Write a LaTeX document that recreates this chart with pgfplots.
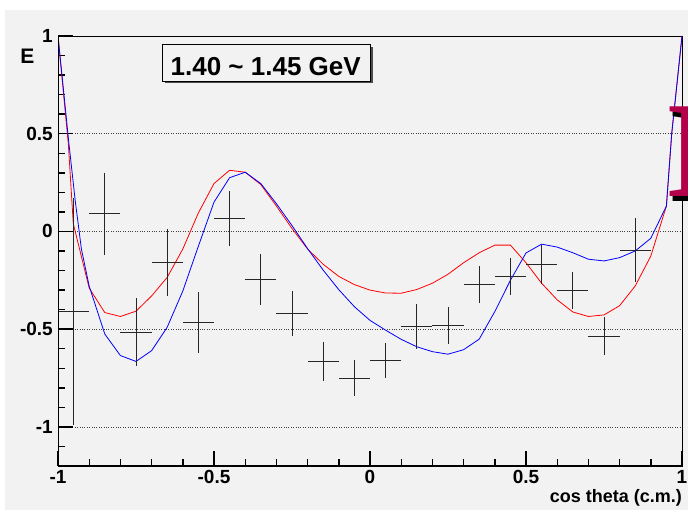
\documentclass[border=0pt]{standalone}
\usepackage{fontspec}
\setmainfont{Liberation Sans}
\newfontfamily\bigserif{Liberation Serif}
\usepackage{pgfplots}
\pgfplotsset{compat=1.18}
\definecolor{canvas}{RGB}{242,242,242}
\definecolor{crimson}{RGB}{180,0,75}

% measured data: cos theta bins, E, half bin width, error
\pgfplotstableread{
x y ex ey
-0.95 -0.41 0.05 0.58
-0.85 0.09 0.05 0.21
-0.75 -0.515 0.05 0.175
-0.65 -0.16 0.05 0.17
-0.55 -0.465 0.05 0.155
-0.45 0.065 0.05 0.14
-0.35 -0.245 0.05 0.13
-0.25 -0.42 0.05 0.115
-0.15 -0.665 0.05 0.10
-0.05 -0.75 0.05 0.09
0.05 -0.66 0.05 0.09
0.15 -0.485 0.05 0.115
0.25 -0.48 0.05 0.095
0.35 -0.27 0.05 0.095
0.45 -0.23 0.05 0.095
0.55 -0.17 0.05 0.10
0.65 -0.30 0.05 0.095
0.75 -0.535 0.05 0.095
0.85 -0.095 0.05 0.165
}\datatab

\begin{document}
\begin{tikzpicture}
\fill[white] (0,0) rectangle (688pt,510pt);
\fill[canvas] (5pt,0) rectangle (688pt,500pt);
\begin{axis}[
  at={(58pt,44pt)}, anchor=south west,
  scale only axis, width=624pt, height=430pt,
  xmin=-1, xmax=1, ymin=-1.2, ymax=1,
  xtick={-1,-0.5,0,0.5,1}, xticklabels={-1,-0.5,0,0.5,1},
  ytick={-1,-0.5,0,0.5,1}, yticklabels={-1,-0.5,0,0.5,1},
  minor xtick={-1,-0.9,...,1},
  minor ytick={-1.1,-1.0,...,1},
  tick align=inside, tick pos=left,
  major tick length=14.5pt, minor tick length=7pt,
  tick style={black, line width=1.4pt},
  axis line style={line width=0.9pt},
  ticklabel style={font=\fontsize{19}{19}\selectfont\bfseries, inner sep=0pt},
  xticklabel style={yshift=-4.5pt},
  yticklabel style={xshift=-5pt},
  ymajorgrids,
  major grid style={black!75, line width=0.7pt, dash pattern=on 0.8pt off 1.6pt},
]
\addplot[red, line width=0.8pt] coordinates {
(-1,1) (-0.967,0.45) (-0.951,0.04) (-0.9,-0.29) (-0.85,-0.415) (-0.8,-0.435)
(-0.75,-0.408) (-0.7,-0.33) (-0.65,-0.235) (-0.6,-0.09) (-0.55,0.095) (-0.5,0.245)
(-0.45,0.313) (-0.4,0.303) (-0.35,0.24) (-0.3,0.13) (-0.25,0.015) (-0.2,-0.09)
(-0.15,-0.168) (-0.1,-0.23) (-0.05,-0.272) (0,-0.30) (0.05,-0.315) (0.1,-0.316)
(0.15,-0.297) (0.2,-0.265) (0.25,-0.219) (0.3,-0.16) (0.35,-0.109) (0.4,-0.07)
(0.45,-0.07) (0.5,-0.16) (0.55,-0.265) (0.6,-0.35) (0.65,-0.412) (0.7,-0.435)
(0.75,-0.427) (0.8,-0.38) (0.85,-0.279) (0.9,-0.126) (0.95,0.13) (0.967,0.5) (1,1)
};
\addplot[blue, line width=0.8pt] coordinates {
(-1,1) (-0.965,0.45) (-0.945,0.16) (-0.925,-0.09) (-0.9,-0.28) (-0.85,-0.525)
(-0.8,-0.635) (-0.75,-0.665) (-0.7,-0.61) (-0.65,-0.49) (-0.6,-0.305) (-0.55,-0.075)
(-0.5,0.15) (-0.45,0.275) (-0.4,0.303) (-0.35,0.245) (-0.3,0.142) (-0.25,0.03)
(-0.2,-0.088) (-0.15,-0.198) (-0.1,-0.298) (-0.05,-0.385) (0,-0.455) (0.05,-0.505)
(0.1,-0.552) (0.15,-0.59) (0.2,-0.615) (0.25,-0.628) (0.3,-0.605) (0.35,-0.551)
(0.4,-0.41) (0.45,-0.25) (0.5,-0.11) (0.55,-0.065) (0.6,-0.08) (0.65,-0.109)
(0.7,-0.142) (0.75,-0.151) (0.8,-0.134) (0.85,-0.10) (0.9,-0.035) (0.95,0.13)
(0.967,0.5) (1,1)
};
\addplot[draw=none, mark=none,
  error bars/.cd, x dir=both, x explicit, y dir=both, y explicit,
  error mark=none, error bar style={solid, draw=black!85, line width=1pt}]
  table[x=x, y=y, x error=ex, y error=ey] {\datatab};
\draw[line width=2pt] (rel axis cs:0,1) -- (rel axis cs:0,0) -- (rel axis cs:1,0);
\end{axis}
\node[anchor=base, inner sep=0pt, font=\fontsize{21}{21}\selectfont\bfseries] at (27.5pt,446pt) {E};
\node[anchor=base east, inner sep=0pt, font=\fontsize{18}{18}\selectfont\bfseries] at (682pt,7pt) {cos theta (c.m.)};
\fill[black!70] (164.7pt,426.7pt) rectangle (372.7pt,463.3pt);
\draw[line width=1pt, fill=canvas] (162.7pt,428.7pt) rectangle (370.7pt,465.3pt);
\node[anchor=base, inner sep=0pt, font=\fontsize{26}{26}\selectfont\bfseries] at (265.7pt,434.5pt) {1.40 \textasciitilde{} 1.45 GeV};
\node[anchor=base west, inner sep=0pt, font=\fontsize{137}{137}\selectfont\bigserif\bfseries, text=black] at (668pt,308pt) {I};
\node[anchor=base west, inner sep=0pt, font=\fontsize{137}{137}\selectfont\bigserif\bfseries, text=crimson] at (665pt,313pt) {I};
\pgfresetboundingbox
\useasboundingbox (0,0) rectangle (688pt,510pt);
\end{tikzpicture}
\end{document}
